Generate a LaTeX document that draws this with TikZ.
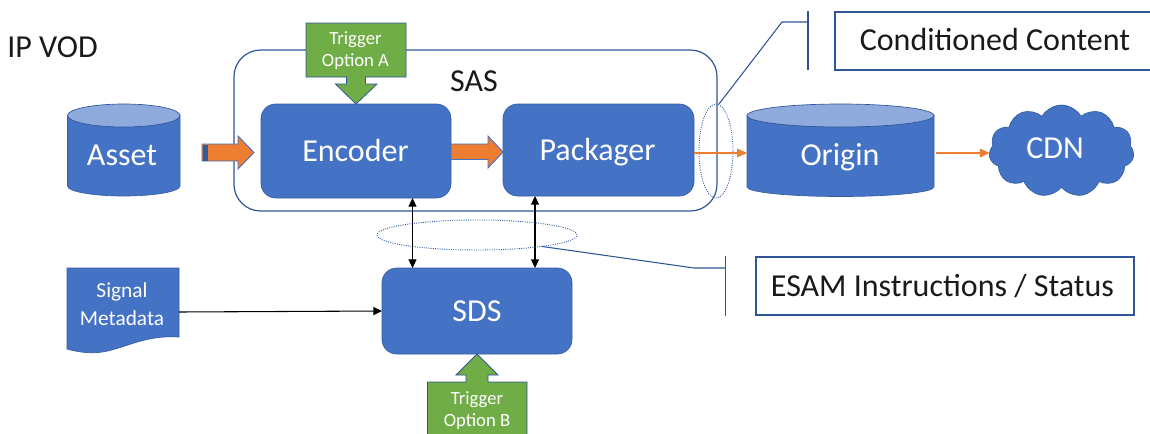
\documentclass[tikz,border=0pt]{standalone}
\usepackage{fontspec}
\setmainfont{Carlito}
\usetikzlibrary{arrows.meta,shapes.geometric,shapes.symbols}
\definecolor{bluefill}{HTML}{4472C4}
\definecolor{blueline}{HTML}{2F5597}
\definecolor{bluetop}{HTML}{8FAADC}
\definecolor{greenfill}{HTML}{70AD47}
\definecolor{orangefill}{HTML}{ED7D31}
\definecolor{inktext}{HTML}{1A1A1A}
\newcommand{\bigtext}{\fontsize{24}{28}\selectfont}
\newcommand{\midtext}{\fontsize{16}{21}\selectfont}
\newcommand{\smalltext}{\fontsize{14}{16.5}\selectfont}
\tikzset{
  pxsize/.style 2 args={minimum width=#1*0.75pt,minimum height=#2*0.75pt,inner sep=0pt,outer sep=0pt},
  blockbox/.style={draw=blueline!70!bluefill,line width=0.5pt,fill=bluefill,rounded corners=11pt},
  labelbox/.style={draw=blueline,line width=0.9pt,fill=white},
  plain/.style={text=inktext,font=\bigtext,inner sep=0pt},
  onblue/.style={text=white,inner sep=0pt,align=center},
  onbig/.style={onblue,font=\bigtext},
  shapeblue/.style={draw=blueline!70!bluefill,line width=0.5pt,fill=bluefill},
  shapetop/.style={draw=blueline,line width=0.5pt,fill=bluetop},
  greenarrow/.style={draw=blueline,line width=0.6pt,fill=greenfill},
  bigarrow/.style={draw=bluefill,line width=0.7pt,fill=orangefill},
  thinorange/.style={draw=orangefill,line width=0.8pt,-{Triangle[length=7.5pt,width=6.5pt]}},
  blackarrow/.style={draw=black,line width=0.8pt,-{Triangle[length=6.5pt,width=6pt]}},
  blackboth/.style={draw=black,line width=0.8pt,{Triangle[length=6.5pt,width=6pt]}-{Triangle[length=6.5pt,width=6pt]}},
  dotring/.style={draw=blueline!80!bluefill,line width=0.7pt,densely dotted,fill=none,inner sep=0pt,outer sep=0pt},
  leader/.style={draw=blueline,line width=0.8pt},
}
\begin{document}
\begin{tikzpicture}[x=0.75pt,y=-0.75pt]
\useasboundingbox (0,0) rectangle (1150,433);

\node[plain,anchor=base west] (title) at (7,57) {IP VOD};

% SAS frame
\node[draw=blueline,line width=0.9pt,rounded corners=20pt,pxsize={483}{161}] (sas) at (475.5,130.5) {};
\node[plain] (sastext) at (474,81) {SAS};

% Asset cylinder
\draw[shapeblue] (67.5,115.5) -- (67.5,186) arc[start angle=180,end angle=0,x radius=56.25,y radius=10] -- (180,115.5) -- cycle;
\draw[shapetop] (123.75,115.5) ellipse[x radius=56.25,y radius=11.5];
\node[pxsize={112}{92}] (asset) at (123.75,150) {};
\node[onbig] (assettext) at (122,155) {Asset};

% Encoder / Packager
\node[blockbox,pxsize={190}{94}] (encoder) at (356,151) {};
\node[onbig] (encodertext) at (355.5,150) {Encoder};
\node[blockbox,pxsize={191}{92}] (packager) at (598.5,150) {};
\node[onbig] (packagertext) at (597.5,152) {Packager};

% Block arrows
\draw[bigarrow] (202,144) -- (238,144) -- (238,136) -- (254,152.5) -- (238,169) -- (238,161) -- (202,161) -- cycle;
\fill[blueline!80!bluefill] (203,144.5) rectangle (208,160.5);
\draw[bigarrow] (encoder.east |- 0,144) -- (488,144) -- (488,136) -- (packager.west |- 0,152) -- (488,168) -- (488,159.5) -- (encoder.east |- 0,159.5) -- cycle;

% Trigger A
\draw[greenarrow] (306,23) -- (406,23) -- (406,77) -- (365.5,77) -- (365.5,84) -- (377,84) -- (encoder.north) -- (335.5,84) -- (346.5,84) -- (346.5,77) -- (306,77) -- cycle;
\node[onblue,font=\smalltext] (triga) at (355.5,51) {Trigger\\Option A};

% Ring over connection
\node[dotring,ellipse,pxsize={34}{94}] (ringv) at (716,151) {};

% Origin
\draw[shapeblue] (747,115.5) -- (747,187) arc[start angle=180,end angle=0,x radius=93.5,y radius=9.5] -- (934,115.5) -- cycle;
\draw[shapetop] (840.5,115.5) ellipse[x radius=93.5,y radius=11.5];
\node[pxsize={187}{92}] (origin) at (840.5,150) {};
\node[onbig] (origintext) at (840,157) {Origin};

% CDN
\node[cloud,cloud puffs=11,cloud puff arc=120,aspect=1.6,shapeblue,pxsize={145}{92}] (cdn) at (1061.5,151) {};
\node[onbig] (cdntext) at (1055,148) {CDN};

% Thin orange connectors
\draw[thinorange] (packager.east |- 0,153) -- (origin.west |- 0,153);
\draw[thinorange] (936,153) -- (cdn.west |- 0,153);

% SDS and document
\node[blockbox,pxsize={190}{86}] (sds) at (477,311) {};
\node[onbig] (sdstext) at (477,311) {SDS};
\draw[shapeblue] (67,268) -- (179,268) -- (179,337) .. controls (150,335) and (130,345) .. (115,349) .. controls (100,354) and (85,354) .. (67,349) -- cycle;
\node[onblue,font=\midtext] (signal) at (122,304) {Signal\\Metadata};
\coordinate (docedge) at (179,312);
\draw[blackarrow] (docedge) -- (sds.west);

% Vertical double arrows
\draw[blackboth] (encoder.south -| 412.5,0) -- (sds.north -| 412.5,0);
\draw[blackboth] (packager.south -| 535,0) -- (sds.north -| 535,0);

\node[dotring,ellipse,pxsize={200}{30}] (ringh) at (477,235) {};

% Trigger B
\draw[greenarrow] (427.5,434) -- (427.5,382) -- (466,382) -- (466,375) -- (456,375) -- (sds.south) -- (498,375) -- (488,375) -- (488,382) -- (527,382) -- (527,434);
\node[onblue,font=\smalltext] (trigb) at (477,411) {Trigger\\Option B};

% Callouts
\node[labelbox,pxsize={320}{58},anchor=north west] (cond) at (835,12) {};
\node[plain] (condtext) at (995,40) {Conditioned Content};
\coordinate (barcond) at (808,22);
\coordinate (bartop) at (808,11);
\coordinate (barbot) at (808,70);
\coordinate (bendcond) at (782,22);
\draw[leader] (bartop) -- (barbot);
\draw[leader] (ringv.north) ++(3,0) -- (bendcond) -- (barcond);

\node[labelbox,pxsize={378}{58}] (esam) at (945,286) {};
\node[plain] (esamtext) at (942.5,286) {ESAM Instructions / Status};
\coordinate (baresam) at (725.5,268);
\coordinate (baretop) at (725.5,256);
\coordinate (barebot) at (725.5,316);
\coordinate (bendesam) at (694,268);
\draw[leader] (baretop) -- (barebot);
\draw[leader] (ringh.-10) -- (bendesam) -- (baresam);
\end{tikzpicture}
\end{document}
